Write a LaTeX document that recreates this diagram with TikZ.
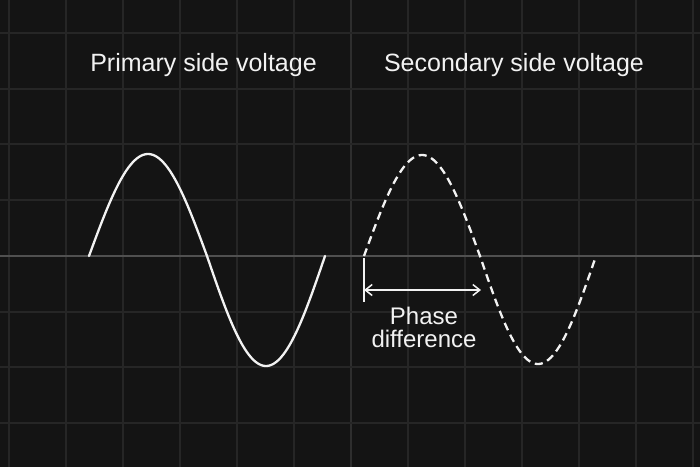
\documentclass[tikz,border=0pt]{standalone}
\usepackage{fontspec}
\setmainfont{Liberation Sans}
\usetikzlibrary{arrows.meta}
\definecolor{bg}{HTML}{141414}
\definecolor{gridc}{HTML}{262626}
\definecolor{midc}{HTML}{2E2E2E}
\definecolor{axisc}{HTML}{505050}
\definecolor{fg}{HTML}{F2F2F2}
\tikzset{
  gridline/.style={draw=gridc, line width=2pt},
  midline/.style={draw=midc, line width=2.2pt},
  axisline/.style={draw=axisc, line width=1.6pt},
  wave/.style={draw=fg, line width=2.3pt},
  dashwave/.style={draw=fg, line width=2.3pt, dash pattern=on 8pt off 5pt},
  title/.style={text=fg, font=\fontsize{25}{30}\selectfont, inner sep=0pt},
  label/.style={text=fg, font=\fontsize{24}{28}\selectfont, align=center, inner sep=0pt},
  marker/.style={draw=fg, line width=1.5pt},
  dimarrow/.style={draw=fg, line width=1.5pt, {Straight Barb[length=7pt,width=11pt]}-{Straight Barb[length=7pt,width=11pt]}}
}
\begin{document}
\begin{tikzpicture}[x=1pt,y=-1pt]
\fill[bg] (0,0) rectangle (700,467);
\useasboundingbox (0,0) rectangle (700,467);
% grid
\foreach \gx in {9,66,123,180,237,294,408,465,522,579,636,693}
  \draw[gridline] (\gx,0) -- (\gx,467);
\draw[midline] (351,0) -- (351,467);
\foreach \gy in {33,88.7,144.4,200,311.5,367,423}
  \draw[gridline] (0,\gy) -- (700,\gy);
\draw[axisline] (0,256) -- (700,256);
% primary wave
\draw[wave, line cap=round] plot[domain=0:180, samples=60] ({89+\x/360*236},{256-102*sin(\x)})
  -- plot[domain=180:360, samples=60] ({89+\x/360*236},{256-110*sin(\x)});
% secondary wave
\draw[dashwave] plot[domain=0:180, samples=60] ({364+\x/360*232},{256-101*sin(\x)})
  -- plot[domain=180:360, samples=60] ({364+\x/360*232},{256-108*sin(\x)});
% titles
\node[title] (ptitle) at (203.5,65) {Primary side voltage};
\node[title] (stitle) at (514,65) {Secondary side voltage};
% phase difference
\coordinate (tickTop) at (364,258);
\coordinate (tickBot) at (364,302);
\coordinate (arrL) at (364,290);
\coordinate (arrR) at (481,290);
\draw[marker] (tickTop) -- (tickBot);
\draw[dimarrow] (arrL) -- (arrR);
\node[label] (phase) at (424,327) {Phase\\[-5pt]difference};
\end{tikzpicture}
\end{document}
